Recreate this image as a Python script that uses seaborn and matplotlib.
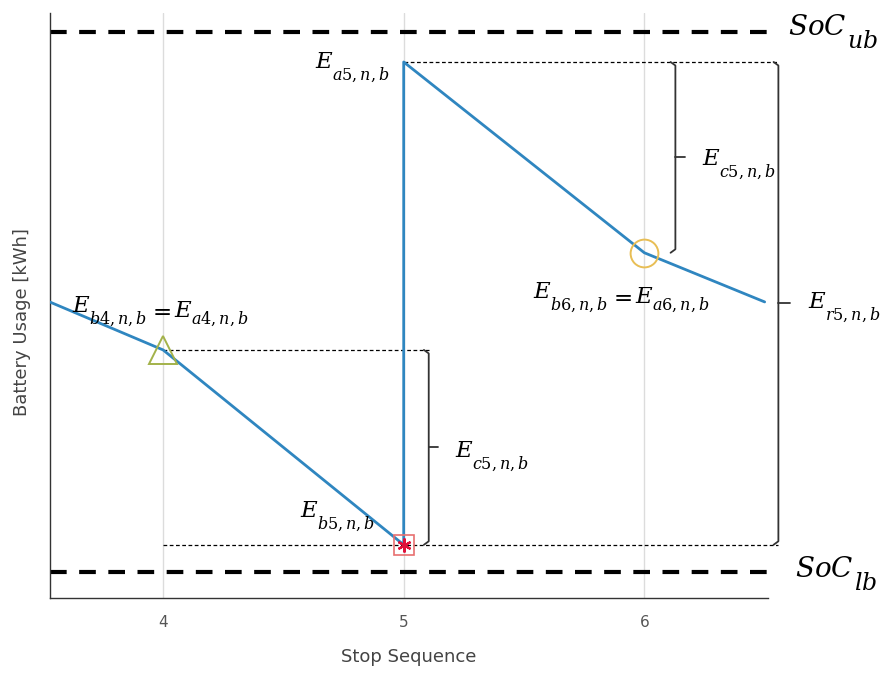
import matplotlib
matplotlib.use("Agg")
import matplotlib.pyplot as plt
import seaborn as sns
import pandas as pd

# Battery state along the stop sequence (charging jump at stop 5)
stop_seq = [3.5, 4.0, 5.0, 5.0, 6.0, 6.5]
battery_kwh = [51.1, 42.4, 9.1, 91.6, 59.0, 50.6]

soc_ub = 96.8
soc_lb = 4.4
x_ticks = [4, 5, 6]

sns.set_theme(style="white")
plt.rcParams["mathtext.fontset"] = "dejavuserif"
plt.rcParams["font.family"] = ["DejaVu Sans"]

fig = plt.figure(figsize=(8.89, 6.75), dpi=100)
ax = fig.add_axes([0.0562, 0.114, 0.808, 0.867])

df = pd.DataFrame({"stop": stop_seq, "usage": battery_kwh})
sns.lineplot(data=df, x="stop", y="usage", sort=False, estimator=None,
             color="#2f86c0", lw=2.0, ax=ax, zorder=3)

# vertical grid at the stops
for xt in x_ticks:
    ax.axvline(xt, color="#dcdcdc", lw=1.0, zorder=0)

# bounds
for yb in (soc_ub, soc_lb):
    ax.axhline(yb, color="black", lw=3.0, dashes=(4, 3), zorder=2)

# markers at stops
ax.plot(stop_seq[1], battery_kwh[1], marker="^", ms=20, mfc="none",
        mec="#a3b24a", mew=1.4, zorder=4, clip_on=False)
ax.plot(stop_seq[2], battery_kwh[2], marker="s", ms=15, mfc="none",
        mec="#e87070", mew=1.2, zorder=4)
ax.plot(stop_seq[2], battery_kwh[2], marker=(6, 2, 0), ms=10, color="#e0103a",
        mec="#e0103a", mew=1.6, zorder=5)
ax.plot(stop_seq[4], battery_kwh[4], marker="o", ms=20, mfc="none",
        mec="#e8be55", mew=1.4, zorder=4)

# guide lines
thin = dict(color="black", lw=0.9, dashes=(3, 2), zorder=2, clip_on=False)
x_r = 6.557
x_c_low = 5.104
x_c_up = 6.129
ax.plot([4.0, x_c_low], [battery_kwh[1]] * 2, **thin)
ax.plot([4.0, x_r], [battery_kwh[2]] * 2, **thin)
ax.plot([5.0, x_r], [battery_kwh[3]] * 2, **thin)


def bracket(x, y_top, y_bot, tick=0.04, stub=0.02):
    kw = dict(color="#333333", lw=1.3, zorder=3, clip_on=False,
              solid_capstyle="round", solid_joinstyle="round")
    ax.plot([x - stub, x, x, x - stub], [y_top, y_top - 0.6, y_bot + 0.6, y_bot], **kw)
    ym = (y_top + y_bot) / 2
    ax.plot([x, x + tick], [ym, ym], **kw)


bracket(x_c_low, battery_kwh[1], battery_kwh[2])
bracket(x_c_up, battery_kwh[3], battery_kwh[4])
bracket(x_r, battery_kwh[3], battery_kwh[2], tick=0.05)


def math_label(x, y, pieces):
    """Chain math pieces left to right; each piece is (tex, size, dy, dx) in points."""
    tex, size, _, _ = pieces[0]
    first = ax.text(x, y, tex, fontsize=size, ha="left", va="baseline",
                    color="black", clip_on=False, zorder=6)
    prev = first
    for tex, size, dy, dx in pieces[1:]:
        prev = ax.annotate(tex, xy=(1, 0), xycoords=(prev, first),
                           xytext=(dx, dy), textcoords="offset points",
                           fontsize=size, ha="left", va="baseline",
                           color="black", zorder=6)
    return first


BASE = 16.5
SUB = BASE * 0.70


def energy(letter, idx, lead=0.0):
    return [(r"$E$", BASE, 0, lead),
            (rf"${letter}{idx},n,b$", SUB, -5, -1.5)]


def equal_pair(letter_l, letter_r, idx):
    return (energy(letter_l, idx) + [(r"$=$", BASE, 0, 1.0)]
            + energy(letter_r, idx, lead=2.0))


def soc(sub):
    return [(r"$SoC$", 20, 0, 0), (rf"${sub}$", 17, -5, 0)]


math_label(6.599, 96.2, soc("ub"))
math_label(6.628, 3.6, soc("lb"))
math_label(4.632, 90.6, energy("a", 5))
math_label(3.622, 48.9, equal_pair("b", "a", 4))
math_label(4.570, 13.8, energy("b", 5))
math_label(5.214, 24.1, energy("c", 5))
math_label(6.241, 74.0, energy("c", 5))
math_label(5.537, 51.3, equal_pair("b", "a", 6))
math_label(6.68, 49.6, energy("r", 5))

ax.set_xlim(3.53, 6.515)
ax.set_ylim(0, 100)
ax.set_xticks(x_ticks)
ax.set_xticklabels([str(t) for t in x_ticks])
ax.set_yticks([])
ax.tick_params(axis="x", direction="in", length=5, width=0.8, color="#333333",
               labelsize=11, labelcolor="#555555", pad=12)
ax.set_xlabel("Stop Sequence", fontsize=13, color="#444444", labelpad=13)
ax.set_ylabel("Battery Usage [kWh]", fontsize=13, color="#444444")
ax.yaxis.set_label_coords(-0.027, 0.472)

for side in ("top", "right"):
    ax.spines[side].set_visible(False)
for side in ("left", "bottom"):
    ax.spines[side].set_color("#333333")
    ax.spines[side].set_linewidth(1.0)

fig.savefig("out.png", dpi=100)
